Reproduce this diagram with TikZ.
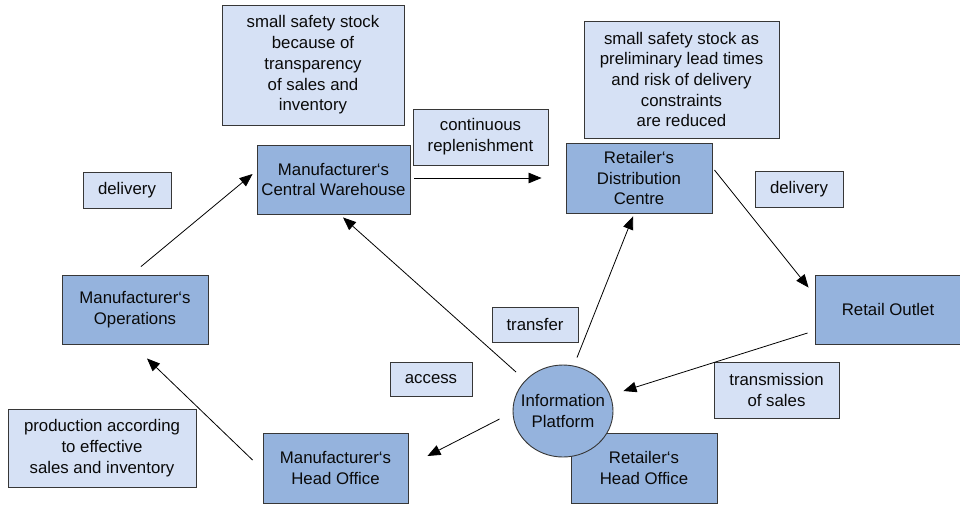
\documentclass[tikz,border=0pt]{standalone}
\usepackage{fontspec}
\setmainfont{Liberation Sans}
\usetikzlibrary{arrows.meta,shapes.geometric}
\definecolor{lightfill}{RGB}{214,225,245}
\definecolor{darkfill}{RGB}{149,179,221}
\definecolor{edgegray}{RGB}{55,55,55}
\definecolor{txt}{RGB}{10,10,10}
\tikzset{
  boxbase/.style={draw=edgegray, line width=0.9pt, rectangle, inner sep=0pt, align=center,
    font=\fontsize{16.8}{20.7}\selectfont, text=txt},
  lbox/.style={boxbase, fill=lightfill},
  dbox/.style={boxbase, fill=darkfill},
  platform/.style={dbox, ellipse, inner xsep=-8pt, inner ysep=0pt, minimum width=100pt, minimum height=92pt},
  conn/.style={draw=black, line width=0.8pt, -{Triangle[length=13pt,width=10.5pt]}},
}
\begin{document}
\begin{tikzpicture}[x=1pt,y=-1pt]
\useasboundingbox (0,0) rectangle (960,504);
% notes
\node[lbox, minimum width=182pt, minimum height=120pt] (ssa) at (313,65) {small safety stock\\because of\\transparency\\of sales and\\inventory};
\node[lbox, minimum width=195pt, minimum height=117pt] (ssb) at (681.5,79.5) {small safety stock as\\preliminary lead times\\and risk of delivery\\constraints\\are reduced};
\node[lbox, minimum width=135pt, minimum height=56pt] (cont) at (480.5,137) {continuous\\replenishment};
\node[lbox, minimum width=88pt, minimum height=36pt] (dell) at (127,190) {delivery};
\node[lbox, minimum width=88pt, minimum height=36pt] (delr) at (799,189) {delivery};
\node[lbox, minimum width=86pt, minimum height=35pt] (transfer) at (535,324.5) {transfer};
\node[lbox, minimum width=82pt, minimum height=34pt] (access) at (431,379) {access};
\node[lbox, minimum width=125pt, minimum height=56pt] (tos) at (776.5,390) {transmission\\of sales};
\node[lbox, minimum width=188pt, minimum height=78pt] (prod) at (102,448) {production according\\to effective\\sales and inventory};
% main nodes
\node[dbox, minimum width=146pt, minimum height=70pt] (dc) at (639,178) {Retailer‘s\\Distribution\\Centre};
\node[dbox, minimum width=153pt, minimum height=69pt] (cw) at (333.5,179.5) {Manufacturer‘s\\Central Warehouse};
\node[dbox, minimum width=146pt, minimum height=69pt] (ro) at (888,309.5) {Retail Outlet};
\node[dbox, minimum width=146pt, minimum height=69pt] (ops) at (135,309.5) {Manufacturer‘s\\Operations};
\node[dbox, minimum width=145pt, minimum height=70pt] (mho) at (335.5,468) {Manufacturer‘s\\Head Office};
\node[dbox, minimum width=146pt, minimum height=70pt] (rho) at (644,468) {Retailer‘s\\Head Office};
\node[platform] (ip) at (563,411) {Information\\Platform};
% connectors
\draw[conn] ([shift={(6,-8)}]ops.north) -- ([shift={(-4,-5.5)}]cw.west);
\draw[conn] ([shift={(4,-1.5)}]cw.east) -- ([shift={(-24,0)}]dc.west);
\draw[conn] ([shift={(2,-8)}]dc.east) -- ([shift={(-6,13)}]ro.north west);
\draw[conn] ([shift={(-7,23.5)}]ro.west) -- ([shift={(10,-20)}]ip.east);
\draw[conn] ([shift={(-47,-39)}]ip.center) -- ([shift={(9.5,3)}]cw.south);
\draw[conn] ([shift={(14,-7)}]ip.north) -- ([shift={(-6,3)}]dc.south);
\draw[conn] ([shift={(-13,8)}]ip.west) -- ([shift={(19,-12)}]mho.east);
\draw[conn] ([shift={(-10,-8)}]mho.west) -- ([shift={(12,14)}]ops.south);
\end{tikzpicture}
\end{document}
